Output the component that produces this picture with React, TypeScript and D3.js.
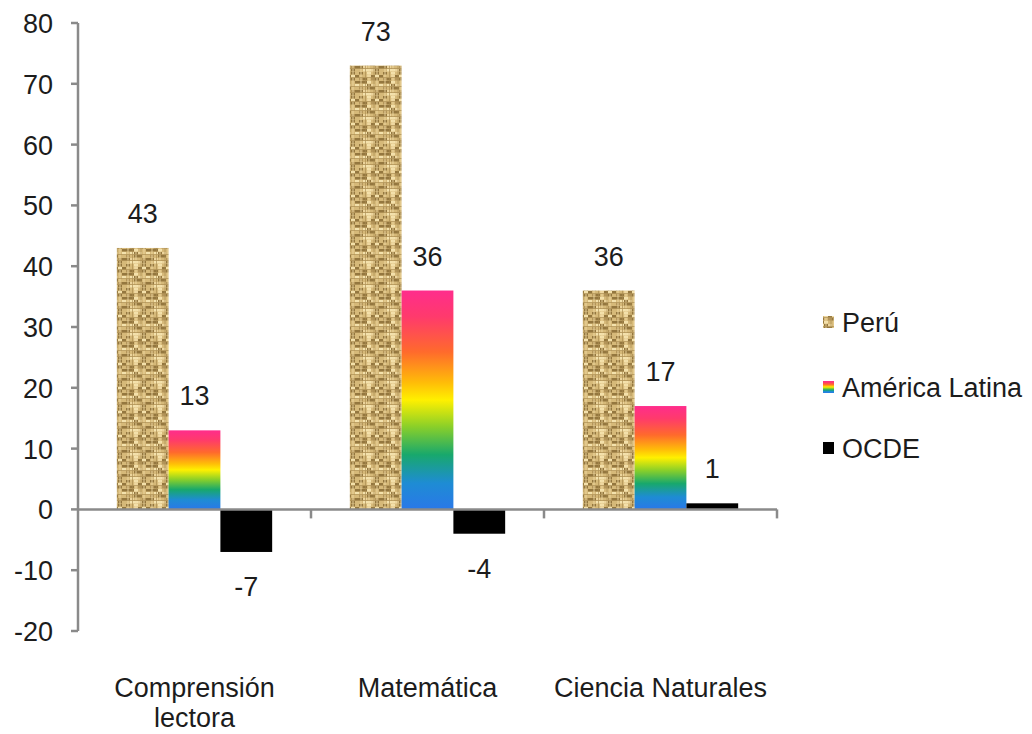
import React from "react";
import * as d3 from "d3";

const categories = ["Comprensión lectora", "Matemática", "Ciencia Naturales"];
const categoryLines = [["Comprensión", "lectora"], ["Matemática"], ["Ciencia Naturales"]];
const series = ["Perú", "América Latina", "OCDE"];
const peru = [43, 73, 36];
const americaLatina = [13, 36, 17];
const ocde = [-7, -4, 1];
const yTicks = [80, 70, 60, 50, 40, 30, 20, 10, 0, -10, -20];

const W = 1032;
const H = 734;
const FONT = "'Liberation Sans', Arial, Helvetica, sans-serif";
const TEXT = "#1c1c1c";
const AXIS = "#8a8a8a";

const fills = ["url(#burlap)", "url(#rainbow)", "#000000"];

// deterministic weave pattern pieces (styling only)
function weave() {
  const els: React.ReactElement[] = [];
  const size = 24;
  let k = 0;
  for (let yy = 0; yy < size; yy += 3) {
    for (let xx = 0; xx < size; xx += 4) {
      const h = (xx * 7 + yy * 13 + ((xx * yy) % 11)) % 9;
      let c: string | null = null;
      if (h === 0 || h === 4) c = "#94773f";
      else if (h === 2 || h === 8) c = "#f4e2ad";
      else if (h === 6) c = "#b4955a";
      else if (h === 7) c = "#ecd49c";
      if (c) els.push(<rect key={k++} x={xx} y={yy} width={4} height={2.5} fill={c} />);
    }
  }
  return els;
}

export default function App() {
  const x0 = d3.scaleBand<string>().domain(categories).range([78, 777]).padding(0);
  const x1 = d3
    .scaleBand<string>()
    .domain(series)
    .range([0, x0.bandwidth()])
    .paddingInner(0)
    .paddingOuter(0.75);
  const y = d3.scaleLinear().domain([-20, 80]).range([631, 23]);
  const values = [peru, americaLatina, ocde];

  return (
    <svg
      width={W}
      height={H}
      style={{ position: "absolute", left: 0, top: 0, background: "#fff" }}
      fontFamily={FONT}
    >
      <defs>
        <pattern id="burlap" patternUnits="userSpaceOnUse" width={24} height={24}>
          <rect width={24} height={24} fill="#d6b979" />
          {weave()}
          <g stroke="#f1dca4" strokeWidth={1.2} opacity={0.7}>
            <line x1={2} y1={0} x2={2} y2={24} />
            <line x1={10} y1={0} x2={10} y2={24} />
            <line x1={18} y1={0} x2={18} y2={24} />
          </g>
          <g stroke="#a6884c" strokeWidth={0.8} opacity={0.8}>
            <line x1={0} y1={5.5} x2={24} y2={5.5} />
            <line x1={0} y1={14.5} x2={24} y2={14.5} />
            <line x1={0} y1={20.5} x2={24} y2={20.5} />
            <line x1={6.5} y1={0} x2={6.5} y2={24} />
            <line x1={15} y1={0} x2={15} y2={24} />
          </g>
        </pattern>
        <linearGradient id="rainbow" x1="0" y1="0" x2="0" y2="1">
          <stop offset="0" stopColor="#ff2d8c" />
          <stop offset="0.12" stopColor="#ff3a6c" />
          <stop offset="0.28" stopColor="#ff6a2c" />
          <stop offset="0.42" stopColor="#ffbc08" />
          <stop offset="0.5" stopColor="#fff000" />
          <stop offset="0.62" stopColor="#8cd028" />
          <stop offset="0.75" stopColor="#18a86c" />
          <stop offset="0.88" stopColor="#1e8cd4" />
          <stop offset="1" stopColor="#2a78e8" />
        </linearGradient>
      </defs>

      {/* bars */}
      {categories.map((cat, ci) => (
        <g key={cat} transform={`translate(${x0(cat)},0)`}>
          {series.map((s, si) => {
            const v = values[si][ci];
            const top = y(Math.max(0, v));
            const bottom = y(Math.min(0, v));
            return (
              <rect
                key={s}
                x={x1(s)}
                y={top}
                width={x1.bandwidth()}
                height={bottom - top}
                fill={fills[si]}
              />
            );
          })}
        </g>
      ))}

      {/* axes */}
      <line x1={78} y1={y(80)} x2={78} y2={y(-20)} stroke={AXIS} strokeWidth={2.5} />
      {yTicks.map((t) => (
        <g key={t}>
          <line x1={71} y1={y(t)} x2={78} y2={y(t)} stroke={AXIS} strokeWidth={2.5} />
          <text x={53} y={y(t) + 10} textAnchor="end" fontSize={27} fill={TEXT}>
            {t}
          </text>
        </g>
      ))}
      <line x1={78} y1={y(0)} x2={777} y2={y(0)} stroke={AXIS} strokeWidth={2.5} />
      {categories.map((cat) => (
        <line
          key={cat}
          x1={(x0(cat) as number) + x0.bandwidth()}
          y1={y(0)}
          x2={(x0(cat) as number) + x0.bandwidth()}
          y2={y(0) + 9}
          stroke={AXIS}
          strokeWidth={2.5}
        />
      ))}

      {/* value labels */}
      {categories.map((cat, ci) =>
        series.map((s, si) => {
          const v = values[si][ci];
          const cx = (x0(cat) as number) + (x1(s) as number) + x1.bandwidth() / 2;
          const ty = v >= 0 ? y(v) - 35 + 10 : y(v) + 34 + 10;
          return (
            <text key={cat + s} x={cx} y={ty} textAnchor="middle" fontSize={27} fill={TEXT}>
              {v}
            </text>
          );
        })
      )}

      {/* category labels */}
      {categories.map((cat, ci) => (
        <text
          key={cat}
          x={(x0(cat) as number) + x0.bandwidth() / 2}
          y={697}
          textAnchor="middle"
          fontSize={27}
          fill={TEXT}
        >
          {categoryLines[ci].map((ln, li) => (
            <tspan key={li} x={(x0(cat) as number) + x0.bandwidth() / 2} dy={li === 0 ? 0 : 30}>
              {ln}
            </tspan>
          ))}
        </text>
      ))}

      {/* legend */}
      {series.map((s, si) => {
        const cy = [322, 387, 448][si];
        return (
          <g key={s}>
            <rect x={823} y={cy - 6} width={11} height={12} fill={fills[si]} />
            <text x={842} y={cy + 10} fontSize={27} fill={TEXT}>
              {s}
            </text>
          </g>
        );
      })}
    </svg>
  );
}
